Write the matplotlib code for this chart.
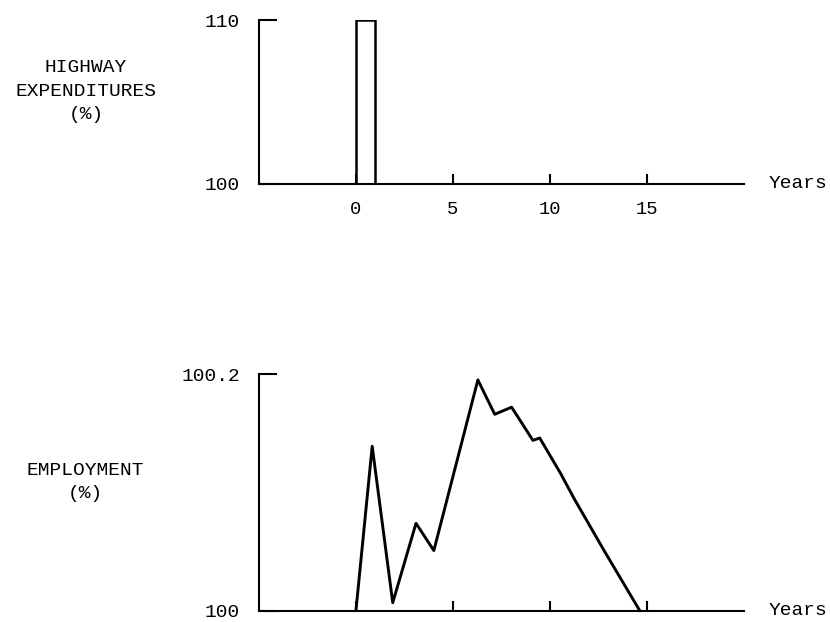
import matplotlib
matplotlib.use('Agg')
import matplotlib.pyplot as plt

# highway expenditures shock (year 0 to 1)
hw_start = [0]
hw_width = [1]
hw_value = [110]
hw_base = 100

# employment response (% of baseline)
emp_years = [0, 0.84, 1.90, 3.10, 4.02, 6.29, 7.16, 8.03, 9.13, 9.48, 10.56, 11.25, 12.8, 14.65]
emp_value = [100.0, 100.139, 100.007, 100.074, 100.051, 100.195, 100.166, 100.172,
             100.144, 100.146, 100.116, 100.095, 100.051, 100.0]

xticks = [0, 5, 10, 15]
xticklabels = ['0', '5', '10', '15']

plt.rcParams['font.family'] = ['Liberation Mono', 'DejaVu Sans']
fs = 14

fig = plt.figure(figsize=(8.3, 6.22), dpi=100)
ax1 = fig.add_axes([0.312, 0.7042, 0.584, 0.2629])
ax2 = fig.add_axes([0.312, 0.0177, 0.584, 0.381])

for ax in (ax1, ax2):
    for s in ['top', 'right']:
        ax.spines[s].set_visible(False)
    for s in ['left', 'bottom']:
        ax.spines[s].set_linewidth(1.5)
    ax.set_xlim(-5, 20)
    ax.set_xticks(xticks)
    ax.tick_params(axis='x', direction='in', length=7, width=1.5, pad=12, labelsize=fs - 0.5)
    ax.tick_params(axis='y', direction='in', length=13, width=1.5, pad=13.5, labelsize=fs)
    ax.text(21.3, 0, 'Years', transform=ax.get_xaxis_transform(), fontsize=fs,
            va='center', ha='left')

# top panel
ax1.bar(hw_start, [v - hw_base for v in hw_value], bottom=hw_base, width=hw_width,
        align='edge', fill=False, edgecolor='black', linewidth=1.8)
ax1.set_ylim(100, 110)
ax1.set_yticks([100, 110])
ax1.set_yticklabels(['100', '110'])
ax1.set_xticklabels(xticklabels)

# bottom panel
ax2.plot(emp_years, emp_value, color='black', linewidth=2.1)
ax2.set_ylim(100, 100.2)
ax2.set_yticks([100, 100.2])
ax2.set_yticklabels(['100', '100.2'])
ax2.set_xticklabels([])

fig.text(0.1036, 0.853, 'HIGHWAY\nEXPENDITURES\n(%)', ha='center', va='center',
         fontsize=fs, linespacing=1.5)
fig.text(0.1024, 0.225, 'EMPLOYMENT\n(%)', ha='center', va='center',
         fontsize=fs, linespacing=1.5)

plt.savefig('out.png', dpi=100)
plt.close()
